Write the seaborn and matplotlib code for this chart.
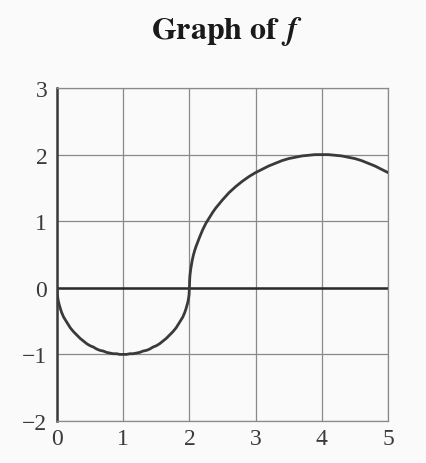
import matplotlib
matplotlib.use("Agg")
import matplotlib.pyplot as plt
import seaborn as sns
import pandas as pd

# curve
x_vals = [0.0, 0.005, 0.01, 0.02, 0.03, 0.05, 0.07, 0.1, 0.15, 0.2, 0.25, 0.3, 0.35, 0.4, 0.45, 0.5,
          0.55, 0.6, 0.65, 0.7, 0.75, 0.8, 0.85, 0.9, 0.95, 1.0,
          1.05, 1.1, 1.15, 1.2, 1.25, 1.3, 1.35, 1.4, 1.45, 1.5, 1.55, 1.6, 1.65, 1.7, 1.75,
          1.8, 1.85, 1.9, 1.93, 1.95, 1.97, 1.98, 1.99, 1.995, 2.0,
          2.005, 2.01, 2.02, 2.04, 2.06, 2.08, 2.1, 2.15, 2.2, 2.25, 2.3, 2.35, 2.4, 2.5, 2.6,
          2.7, 2.8, 2.9, 3.0, 3.1, 3.2, 3.3, 3.4, 3.5, 3.6, 3.7, 3.8, 3.9,
          4.0, 4.1, 4.2, 4.3, 4.4, 4.5, 4.6, 4.7, 4.8, 4.9, 5.0]
y_vals = [0.0, -0.10, -0.14, -0.20, -0.24, -0.31, -0.37, -0.44, -0.52, -0.60, -0.66, -0.71, -0.76, -0.80, -0.84, -0.87,
          -0.89, -0.92, -0.94, -0.95, -0.97, -0.98, -0.99, -0.99, -1.0, -1.0,
          -1.0, -0.99, -0.99, -0.98, -0.97, -0.95, -0.94, -0.92, -0.89, -0.87, -0.84, -0.80, -0.76, -0.71, -0.66,
          -0.60, -0.52, -0.44, -0.37, -0.31, -0.24, -0.20, -0.14, -0.10, 0.0,
          0.14, 0.20, 0.28, 0.40, 0.49, 0.56, 0.62, 0.75, 0.87, 0.97, 1.05, 1.13, 1.20, 1.32, 1.43,
          1.52, 1.60, 1.67, 1.73, 1.78, 1.83, 1.87, 1.91, 1.94, 1.96, 1.98, 1.99, 2.0,
          2.0, 2.0, 1.99, 1.98, 1.96, 1.94, 1.91, 1.87, 1.83, 1.78, 1.73]
x_ticks = [0, 1, 2, 3, 4, 5]
y_ticks = [-2, -1, 0, 1, 2, 3]
title_text = r"$\mathbf{Graph\ of}\;\,\mathbfit{f}$"

df = pd.DataFrame({"x": x_vals, "y": y_vals})

sns.set_theme(style="white")
plt.rcParams["font.family"] = ["Liberation Serif", "DejaVu Serif"]
plt.rcParams["mathtext.fontset"] = "stix"

fig = plt.figure(figsize=(4.27, 4.64), dpi=100, facecolor="#fafafa")
ax = fig.add_axes([57 / 427, 1 - 422 / 464, (388 - 57) / 427, (422 - 89) / 464])
ax.set_facecolor("#fafafa")

sns.lineplot(data=df, x="x", y="y", sort=False, estimator=None, color="#3a3a3a",
             linewidth=2.0, ax=ax, zorder=3)
ax.axhline(0, color="#2a2a2a", linewidth=1.8, zorder=2)

ax.set_xlim(0, 5)
ax.set_ylim(-2, 3)
ax.set_xticks(x_ticks)
ax.set_yticks(y_ticks)
ax.set_xticklabels([str(v) for v in x_ticks])
ax.set_yticklabels([str(v).replace("-", "\u2212") for v in y_ticks])
ax.grid(True, color="#8a8a8a", linewidth=0.9)
ax.tick_params(axis="both", length=0, labelsize=17, colors="#3a3a3a")
ax.tick_params(axis="x", pad=5)
ax.tick_params(axis="y", pad=7)
ax.set_xlabel("")
ax.set_ylabel("")
for side in ["top", "right", "bottom"]:
    ax.spines[side].set_color("#8a8a8a")
    ax.spines[side].set_linewidth(0.9)
ax.spines["left"].set_color("#3a3a3a")
ax.spines["left"].set_linewidth(1.8)

fig.text(0.532, 0.933, title_text, ha="center", va="center",
         fontsize=23, color="#1a1a1a")

fig.savefig("out.png", dpi=100, facecolor=fig.get_facecolor())
